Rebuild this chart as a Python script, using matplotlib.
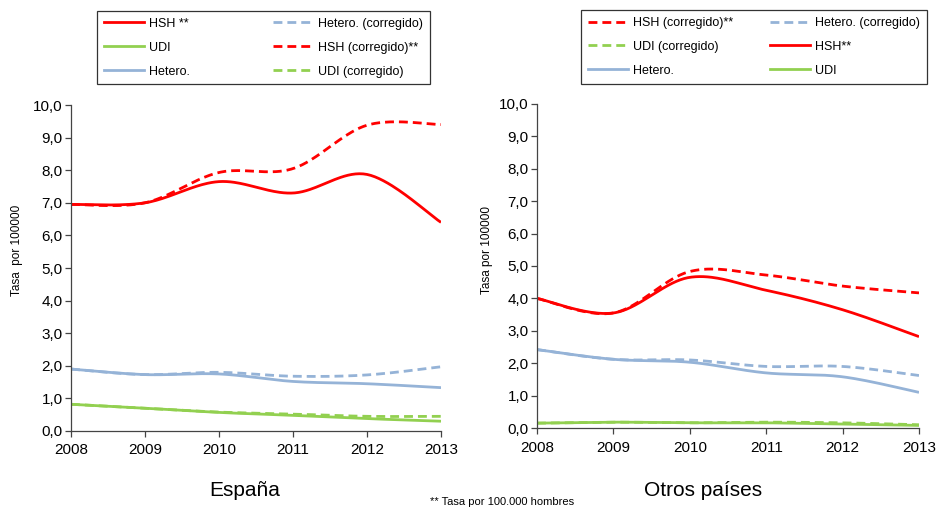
import numpy as np
import matplotlib
matplotlib.use("Agg")
import matplotlib.pyplot as plt
from matplotlib.lines import Line2D

plt.rcParams['font.family'] = ['Liberation Sans', 'DejaVu Sans']

years = [2008, 2009, 2010, 2011, 2012, 2013]

# España
es_hsh = [6.95, 7.0, 7.65, 7.3, 7.87, 6.4]
es_hsh_corr = [6.95, 7.0, 7.93, 8.05, 9.38, 9.4]
es_het = [1.9, 1.73, 1.75, 1.52, 1.45, 1.33]
es_het_corr = [1.9, 1.73, 1.8, 1.68, 1.72, 1.97]
es_udi = [0.82, 0.7, 0.57, 0.48, 0.38, 0.3]
es_udi_corr = [0.82, 0.7, 0.58, 0.52, 0.45, 0.45]

# Otros países
ot_hsh = [4.0, 3.55, 4.65, 4.25, 3.65, 2.82]
ot_hsh_corr = [4.0, 3.55, 4.83, 4.72, 4.38, 4.17]
ot_het = [2.42, 2.12, 2.03, 1.7, 1.58, 1.1]
ot_het_corr = [2.42, 2.12, 2.1, 1.9, 1.9, 1.62]
ot_udi = [0.15, 0.18, 0.16, 0.16, 0.12, 0.08]
ot_udi_corr = [0.15, 0.18, 0.16, 0.18, 0.16, 0.1]

yticks = [0, 1, 2, 3, 4, 5, 6, 7, 8, 9, 10]
ytick_labels = ["0,0", "1,0", "2,0", "3,0", "4,0", "5,0", "6,0", "7,0", "8,0", "9,0", "10,0"]

RED = "#FF0000"
GREEN = "#92D050"
BLUE = "#95B3D7"
LW = 2.0
DASH = (3.2, 1.8)


def smooth(x, y, n=40):
    """Excel-style smoothed line: cubic Bezier through the points."""
    x = np.asarray(x, float)
    y = np.asarray(y, float)
    P = np.column_stack([x, y])
    m = len(P)
    out = []
    for i in range(m - 1):
        p0 = P[i - 1] if i > 0 else P[i]
        p1 = P[i]
        p2 = P[i + 1]
        p3 = P[i + 2] if i + 2 < m else P[i + 1]
        c1 = p1 + (p2 - p0) / 6.0
        c2 = p2 - (p3 - p1) / 6.0
        t = np.linspace(0, 1, n)[:, None]
        seg = ((1 - t) ** 3) * p1 + 3 * ((1 - t) ** 2) * t * c1 + 3 * (1 - t) * t ** 2 * c2 + t ** 3 * p2
        out.append(seg if i == 0 else seg[1:])
    s = np.vstack(out)
    return s[:, 0], s[:, 1]


def draw(ax, series, ylabel, label_xy):
    for vals, color, dashed in series:
        xs, ys = smooth(years, vals)
        ln, = ax.plot(xs, ys, color=color, lw=LW, solid_capstyle='butt',
                      dash_capstyle='butt')
        if dashed:
            ln.set_dashes(DASH)
    ax.set_xlim(2008, 2013)
    ax.set_ylim(0, 10)
    ax.set_xticks(years)
    ax.set_xticklabels([str(y) for y in years], fontsize=11)
    ax.set_yticks(yticks)
    ax.set_yticklabels(ytick_labels, fontsize=11)
    for s in ['top', 'right']:
        ax.spines[s].set_visible(False)
    for s in ['left', 'bottom']:
        ax.spines[s].set_color('#444444')
        ax.spines[s].set_linewidth(0.9)
    ax.tick_params(axis='both', direction='out', length=4, width=0.9,
                   color='#444444', pad=2)
    ax.tick_params(axis='x', pad=5)
    ax.set_ylabel(ylabel, fontsize=8.5, va='center')
    ax.yaxis.set_label_coords(*label_xy)


fig = plt.figure(figsize=(9.36, 5.07), dpi=100)
W, H = 936.0, 507.0

ax1 = fig.add_axes([71 / W, 1 - 431 / H, 370 / W, 326 / H])
ax2 = fig.add_axes([537 / W, 1 - 428 / H, 382 / W, 324 / H])

draw(ax1, [
    (es_udi_corr, GREEN, True),
    (es_udi, GREEN, False),
    (es_het_corr, BLUE, True),
    (es_het, BLUE, False),
    (es_hsh_corr, RED, True),
    (es_hsh, RED, False),
], "Tasa  por 100000", (-0.146, 0.555))

draw(ax2, [
    (ot_udi_corr, GREEN, True),
    (ot_udi, GREEN, False),
    (ot_het_corr, BLUE, True),
    (ot_het, BLUE, False),
    (ot_hsh_corr, RED, True),
    (ot_hsh, RED, False),
], "Tasa por 100000", (-0.131, 0.55))


def h(color, dashed):
    ln = Line2D([0], [0], color=color, lw=LW)
    if dashed:
        ln.set_dashes(DASH)
    return ln


leg_kw = dict(loc='upper left', mode='expand', ncol=2, frameon=True,
              fancybox=False, edgecolor='black', fontsize=9,
              handlelength=3.2, handletextpad=0.4, borderaxespad=0,
              labelspacing=0.95, borderpad=0.55, columnspacing=1.0)

leg1 = fig.legend(
    [h(RED, False), h(GREEN, False), h(BLUE, False),
     h(BLUE, True), h(RED, True), h(GREEN, True)],
    ["HSH **", "UDI", "Hetero.", "Hetero. (corregido)",
     "HSH (corregido)**", "UDI (corregido)"],
    bbox_to_anchor=(97 / W, 1 - 83 / H, 333 / W, 72 / H), **leg_kw)
leg1.get_frame().set_linewidth(0.9)

leg2 = fig.legend(
    [h(RED, True), h(GREEN, True), h(BLUE, False),
     h(BLUE, True), h(RED, False), h(GREEN, False)],
    ["HSH (corregido)**", "UDI (corregido)", "Hetero.",
     "Hetero. (corregido)", "HSH**", "UDI"],
    bbox_to_anchor=(581 / W, 1 - 84 / H, 346 / W, 74 / H), **leg_kw)
leg2.get_frame().set_linewidth(0.9)

fig.text(245 / W, 1 - 490 / H, "España", ha='center', va='center', fontsize=15)
fig.text(703 / W, 1 - 490 / H, "Otros países", ha='center', va='center', fontsize=15)
fig.text(430 / W, 1 - 502 / H, "** Tasa por 100.000 hombres", ha='left', va='center',
         fontsize=8)

fig.savefig("out.png", dpi=100)
